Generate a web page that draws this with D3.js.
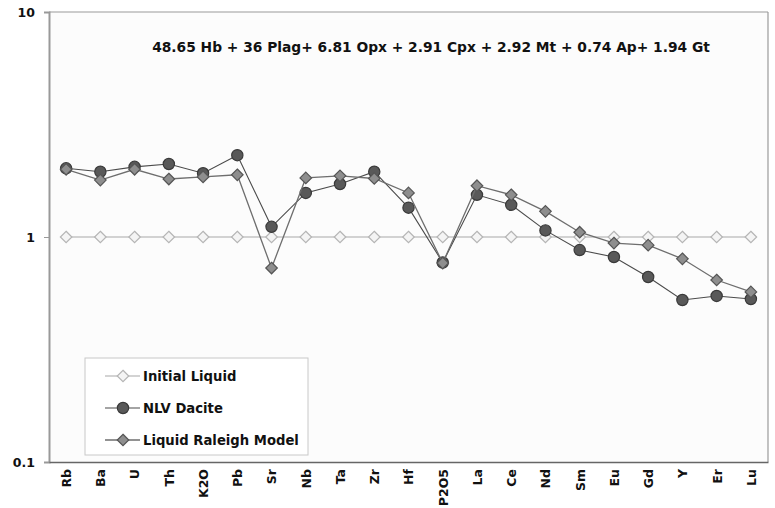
<!DOCTYPE html>
<html>
<head>
<meta charset="utf-8">
<script src="https://cdn.jsdelivr.net/npm/d3@7"></script>
<style>
  html, body { margin: 0; padding: 0; background: #fff; }
  svg { display: block; }
  text { font-family: "DejaVu Sans", sans-serif; font-weight: bold; fill: #111; }
</style>
</head>
<body>
<svg id="chart" width="775" height="508"></svg>
<script>
// Normalised trace-element ratios, one value per element
const elements = ["Rb","Ba","U","Th","K2O","Pb","Sr","Nb","Ta","Zr","Hf","P2O5","La","Ce","Nd","Sm","Eu","Gd","Y","Er","Lu"];
const initialLiquid = [1,1,1,1,1,1,1,1,1,1,1,1,1,1,1,1,1,1,1,1,1];
const nlvDacite = [2.02,1.95,2.05,2.11,1.92,2.31,1.11,1.57,1.72,1.95,1.35,0.77,1.54,1.39,1.07,0.875,0.815,0.664,0.525,0.547,0.53];
const raleighModel = [2.0,1.79,2.0,1.81,1.85,1.89,0.728,1.83,1.87,1.82,1.57,0.766,1.69,1.54,1.30,1.05,0.94,0.92,0.80,0.644,0.57];
const yTicks = [0.1, 1, 10];
const titleText = "48.65 Hb + 36 Plag+ 6.81 Opx + 2.91 Cpx + 2.92 Mt + 0.74 Ap+ 1.94 Gt";

const svg = d3.select("#chart");
const m = { left: 49, right: 7, top: 12, bottom: 46 };
const W = 775, H = 508;
const x = d3.scalePoint().domain(elements).range([m.left, W - m.right]).padding(0.5);
const y = d3.scaleLog().domain([0.1, 10]).range([H - m.bottom, m.top]);

// plot frame
svg.append("rect")
  .attr("x", m.left).attr("y", m.top)
  .attr("width", W - m.right - m.left).attr("height", H - m.bottom - m.top)
  .attr("fill", "#fcfcfc").attr("stroke", "none");
svg.append("line").attr("x1", m.left).attr("x2", W - m.right).attr("y1", m.top).attr("y2", m.top)
  .attr("stroke", "#9a9a9a").attr("stroke-width", 1.2);
svg.append("line").attr("x1", W - m.right).attr("x2", W - m.right).attr("y1", m.top).attr("y2", H - m.bottom)
  .attr("stroke", "#9a9a9a").attr("stroke-width", 1.2);

// y axis (log)
const yAxis = svg.append("g").attr("transform", `translate(${m.left},0)`)
  .call(d3.axisLeft(y).tickValues(yTicks).tickFormat(d3.format("~g")).tickSize(5).tickPadding(9));
yAxis.select(".domain").attr("stroke", "#999").attr("stroke-width", 2);
yAxis.selectAll(".tick line").attr("stroke", "#999");
yAxis.selectAll("text").style("font-size", "12.5px").attr("fill", "#111");

// x axis
const xAxis = svg.append("g").attr("transform", `translate(0,${H - m.bottom})`)
  .call(d3.axisBottom(x).tickSize(0).tickPadding(0));
xAxis.select(".domain").attr("stroke", "#666").attr("stroke-width", 1.3);
xAxis.selectAll("text")
  .style("font-size", "12.5px")
  .attr("text-anchor", "end")
  .attr("transform", "rotate(-90)")
  .attr("x", -7).attr("y", 0).attr("dy", "0.35em");

// series styles
const series = [
  { name: "Initial Liquid", values: initialLiquid, line: "#c4c4c4", lw: 1.3, shape: "diamond", fill: "#f4f4f4", stroke: "#b5b5b5" },
  { name: "NLV Dacite", values: nlvDacite, line: "#4a4a4a", lw: 1.1, shape: "circle", fill: "#595959", stroke: "#3a3a3a" },
  { name: "Liquid Raleigh Model", values: raleighModel, line: "#6e6e6e", lw: 1.3, shape: "diamond", fill: "#8e8e8e", stroke: "#555" }
];

const line = d3.line().x((d, i) => x(elements[i])).y(d => y(d));
const diamond = d3.symbol().type(d3.symbolDiamond2).size(85);
const circle = d3.symbol().type(d3.symbolCircle).size(100);

function drawMarker(g, s, cx, cy) {
  g.append("path")
    .attr("d", s.shape === "circle" ? circle() : diamond())
    .attr("transform", `translate(${cx},${cy})`)
    .attr("fill", s.fill).attr("stroke", s.stroke).attr("stroke-width", 1.2);
}

series.forEach(s => {
  const g = svg.append("g");
  g.append("path").datum(s.values).attr("d", line)
    .attr("fill", "none").attr("stroke", s.line).attr("stroke-width", s.lw);
  s.values.forEach((v, i) => drawMarker(g, s, x(elements[i]), y(v)));
});

// title / mineral assemblage
svg.append("text").attr("x", 431).attr("y", 52).attr("text-anchor", "middle")
  .style("font-size", "13.8px").text(titleText);

// legend
const lg = svg.append("g");
lg.append("rect").attr("x", 85).attr("y", 358).attr("width", 223).attr("height", 97)
  .attr("fill", "#fff").attr("stroke", "#c8c8c8").attr("stroke-width", 1);
series.forEach((s, i) => {
  const cy = 376 + i * 32;
  lg.append("line").attr("x1", 105).attr("x2", 140).attr("y1", cy).attr("y2", cy)
    .attr("stroke", s.line).attr("stroke-width", s.lw);
  drawMarker(lg, s, 123, cy);
  lg.append("text").attr("x", 143).attr("y", cy).attr("dy", "0.35em")
    .style("font-size", "13.2px").text(s.name);
});
</script>
</body>
</html>
